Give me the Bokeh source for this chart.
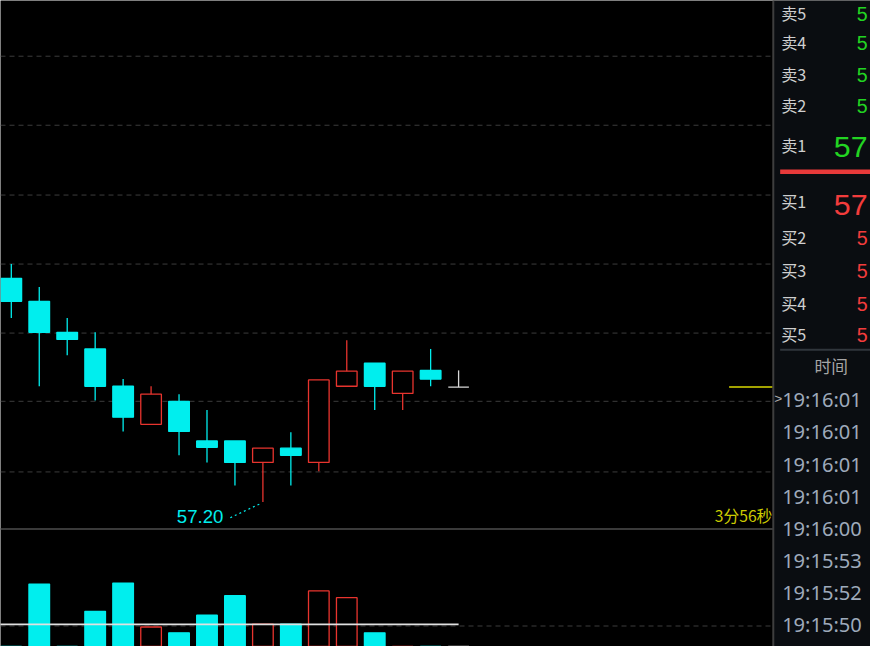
from bokeh.plotting import figure
from bokeh.models import Range1d, ColumnDataSource
from bokeh.core.properties import value
from bokeh.embed import file_html
from bokeh.resources import INLINE

# ---------------- data ----------------
opens  = [57.482, 57.453, 57.414, 57.393, 57.346, 57.298, 57.327, 57.277, 57.277,
          57.250, 57.268, 57.250, 57.346, 57.375, 57.337, 57.366, 57.345]
highs  = [57.500, 57.471, 57.432, 57.414, 57.355, 57.346, 57.336, 57.316, 57.277,
          57.268, 57.288, 57.354, 57.404, 57.375, 57.365, 57.393, 57.366]
lows   = [57.432, 57.346, 57.385, 57.328, 57.289, 57.298, 57.259, 57.250, 57.221,
          57.200, 57.221, 57.239, 57.346, 57.316, 57.316, 57.346, 57.345]
closes = [57.453, 57.414, 57.405, 57.346, 57.307, 57.336, 57.289, 57.269, 57.250,
          57.268, 57.259, 57.354, 57.365, 57.346, 57.365, 57.355, 57.345]
volumes = [6, 82, 5, 54, 83, 38, 32, 50, 70, 41, 41, 75, 68, 32, 7, 4, 2]
vol_ma_x = [-1, 0, 1, 2, 3, 4, 5, 6, 7, 8, 9, 10, 11, 12, 13, 14, 15, 16]
vol_ma   = [40.7, 40.7, 40.7, 40.7, 40.7, 40.7, 40.7, 40.7, 40.7,
            40.7, 40.7, 40.7, 40.7, 40.7, 40.7, 40.7, 40.7, 40.7]
price_grid = [57.238, 57.327, 57.413, 57.500, 57.587, 57.675, 57.762]
vol_grid = [39]
countdown = "3分56秒"
book_labels = ["卖5", "卖4", "卖3", "卖2", "卖1", "买1", "买2", "买3", "买4", "买5"]
book_prices = ["5", "5", "5", "5", "57", "57", "5", "5", "5", "5"]
trade_header = "时间"
trade_times = ["19:16:01", "19:16:01", "19:16:01", "19:16:01",
               "19:16:00", "19:15:53", "19:15:52", "19:15:50"]

# ---------------- layout constants ----------------
REF_W, REF_H = 886, 662          # design space (pixels of the original screen)
W, H = 870, 646                  # figure size
FS = 0.98                        # font scale
STEP = 28.47                     # px per candle
X0 = 11.0                        # px of first candle center
PX_PER_PRICE = 813.0
ANCHOR_PRICE, ANCHOR_Y = 57.20, 514.0
VOL_ZERO_Y = 680.0               # 1 lot per px
PANEL_X = 787.0

CYAN = "#00eeee"
RED = "#e8342e"
GRAY = "#d8d8d8"
GRID = "#3c3c3c"
GREEN = "#22d422"
BRED = "#f23c3c"


def fs(px):
    return value(f"{px * FS:.1f}px")


p = figure(width=W, height=H, output_backend="svg", toolbar_location=None, tools="",
           x_axis_location=None, y_axis_location=None, min_border=0,
           background_fill_color="#000000", border_fill_color="#000000",
           outline_line_color=None,
           x_range=Range1d((0 - X0) / STEP, (REF_W - X0) / STEP),
           y_range=Range1d(ANCHOR_PRICE - (REF_H - ANCHOR_Y) / PX_PER_PRICE,
                           ANCHOR_PRICE + ANCHOR_Y / PX_PER_PRICE))
p.xgrid.visible = False
p.ygrid.visible = False
p.extra_y_ranges = {"vol": Range1d(VOL_ZERO_Y - REF_H, VOL_ZERO_Y),
                    "py": Range1d(REF_H, 0)}
p.extra_x_ranges = {"px": Range1d(0, REF_W)}

# right panel background
p.quad(left=[PANEL_X], right=[REF_W], bottom=[REF_H], top=[0], fill_color="#0a0d11",
       line_color=None, x_range_name="px", y_range_name="py")

# price grid lines
p.segment(x0=[0] * len(price_grid), x1=[PANEL_X] * len(price_grid), y0=price_grid, y1=price_grid,
          line_color=GRID, line_width=1, line_dash="5 4", x_range_name="px")
# volume grid line
p.segment(x0=[0], x1=[PANEL_X], y0=vol_grid, y1=vol_grid, line_color=GRID, line_width=1,
          line_dash="5 4", x_range_name="px", y_range_name="vol")

# candles
idx = list(range(len(opens)))
colors = [RED if c > o else (CYAN if c < o else GRAY) for o, c in zip(opens, closes)]
fills = [CYAN if c < o else "#000000" for o, c in zip(opens, closes)]
src = ColumnDataSource(dict(x=idx, o=opens, h=highs, l=lows, c=closes,
                            top=[max(o, c) for o, c in zip(opens, closes)],
                            bot=[min(o, c) for o, c in zip(opens, closes)],
                            col=colors, fill=fills, vol=volumes))
p.segment(x0="x", x1="x", y0="l", y1="h", line_color="col", line_width=1.3, source=src)
p.vbar(x="x", width=21 / STEP, top="top", bottom="bot", fill_color="fill",
       line_color="col", line_width=1.3, source=src)

# volume bars
p.vbar(x="x", width=21 / STEP, top="vol", bottom=0, fill_color="fill",
       line_color="col", line_width=1.3, source=src, y_range_name="vol")
p.line(x=vol_ma_x, y=vol_ma, line_color="#e0e0e0", line_width=1.8, y_range_name="vol")

# separators
p.segment(x0=[0], x1=[PANEL_X], y0=[541.5], y1=[541.5], line_color="#3a3a3a", line_width=2,
          x_range_name="px", y_range_name="py")
p.segment(x0=[PANEL_X], x1=[PANEL_X], y0=[0], y1=[REF_H], line_color="#3e3e3e", line_width=2,
          x_range_name="px", y_range_name="py")

# last price marker
p.segment(x0=[742], x1=[PANEL_X - 1], y0=[closes[-1]], y1=[closes[-1]], line_color="#d8d800",
          line_width=1.6, x_range_name="px")

# low label and connector
p.segment(x0=[234], y0=[530], x1=[266], y1=[515], line_color=CYAN, line_width=1.2,
          line_dash="2 3", x_range_name="px", y_range_name="py")
p.text(x=[227], y=[529], text=[f"{min(lows):.2f}"], text_color=CYAN, text_align="right",
       text_baseline="middle", text_font=value("Liberation Sans"), text_font_size=fs(19),
       x_range_name="px", y_range_name="py")

# countdown
p.text(x=[786], y=[528], text=[countdown], text_color="#cccc00", text_align="right",
       text_baseline="middle", text_font=value("Noto Sans CJK SC"), text_font_size=fs(16),
       x_range_name="px", y_range_name="py")

# order book
row_y = [13, 43, 75, 107, 148, 205, 242, 276, 310, 342]
p.text(x=[795] * len(book_labels), y=row_y, text=book_labels, text_color="#cfcfcf",
       text_align="left", text_baseline="middle", text_font=value("Noto Sans CJK SC"),
       text_font_size=fs(16.5), x_range_name="px", y_range_name="py")
small_y, small_t, small_c = [], [], []
big_y, big_t, big_c = [], [], []
for k, (lab, pr) in enumerate(zip(book_labels, book_prices)):
    col = GREEN if lab.startswith("卖") else BRED
    if lab.endswith("1"):
        big_y.append(row_y[k] + (2 if k == 4 else 5)); big_t.append(pr); big_c.append(col)
    else:
        small_y.append(row_y[k] + 1); small_t.append(pr); small_c.append(col)
p.text(x=[883] * len(small_t), y=small_y, text=small_t, text_color=small_c, text_align="right",
       text_baseline="middle", text_font=value("Liberation Sans"), text_font_size=fs(20),
       x_range_name="px", y_range_name="py")
p.text(x=[883] * len(big_t), y=big_y, text=big_t, text_color=big_c, text_align="right",
       text_baseline="middle", text_font=value("Liberation Sans"), text_font_size=fs(31),
       x_range_name="px", y_range_name="py")
p.segment(x0=[794], x1=[REF_W], y0=[175.5], y1=[175.5], line_color="#e83a3a", line_width=4.5,
          x_range_name="px", y_range_name="py")
p.segment(x0=[794], x1=[REF_W], y0=[358], y1=[358], line_color="#30363c", line_width=2,
          x_range_name="px", y_range_name="py")

# time & sales
p.text(x=[846], y=[375], text=[trade_header], text_color="#a6a6a6", text_align="center",
       text_baseline="middle", text_font=value("Noto Sans CJK SC"), text_font_size=fs(17),
       x_range_name="px", y_range_name="py")
time_y = [409, 442, 475, 508, 541, 574, 607, 639]
p.text(x=[796] * len(trade_times), y=time_y, text=trade_times, text_color="#9eaabb",
       text_align="left", text_baseline="middle", text_font=value("Noto Sans"),
       text_font_size=fs(20.5), x_range_name="px", y_range_name="py")
p.text(x=[788], y=[408], text=[">"], text_color="#b0b0b0", text_align="left",
       text_baseline="middle", text_font=value("Liberation Sans"), text_font_size=fs(14),
       x_range_name="px", y_range_name="py")

open("out.html", "w").write(file_html(p, INLINE))
